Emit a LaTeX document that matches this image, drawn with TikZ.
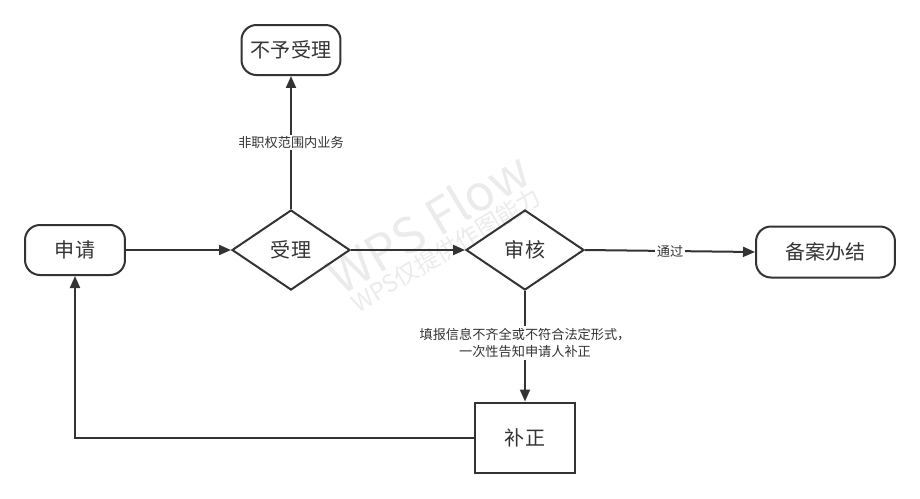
\documentclass[tikz,border=0pt]{standalone}
\usepackage{fontspec}
\setmainfont{Noto Sans CJK SC}
\usetikzlibrary{arrows.meta,shapes.geometric}
\definecolor{ln}{HTML}{333333}
\definecolor{wm}{HTML}{EBEBEB}
\begin{document}
\begin{tikzpicture}[x=0.02cm,y=-0.02cm,
  base/.style={draw=ln,line width=0.04cm,text=ln,font=\fontsize{11.4}{13}\selectfont,inner sep=0pt,align=center},
  term/.style={base,rounded corners=0.3cm,minimum height=1cm},
  proc/.style={base,minimum width=2cm,minimum height=1.4cm},
  dec/.style={base,diamond,minimum width=2.36cm,minimum height=1.6cm},
  arr/.style={draw=ln,line width=0.04cm,-{Triangle[length=0.24cm,width=0.2cm]}},
  lbl/.style={fill=white,text=ln,font=\fontsize{7.5}{10.2}\selectfont,inner sep=1pt,align=center},
  wmk/.style={text=wm,rotate=31}
]
\useasboundingbox (0,0) rectangle (920,498);
% watermark
\node[wmk,font=\fontsize{28}{30}\selectfont] (wm1) at (428,222) {WPS Flow};
\node[wmk,font=\fontsize{13.5}{15}\selectfont] (wm2) at (446,250) {WPS仅提供作图能力};
% nodes
\node[term,minimum width=2cm] (sq) at (75,250) {申请};
\node[dec] (sl) at (291,250) {受理};
\node[term,minimum width=1.98cm] (byl) at (291,50) {不予受理};
\node[dec] (sh) at (525,250) {审核};
\node[term,minimum width=2.78cm,minimum height=1.02cm] (ba) at (825.5,252) {备案办结};
\node[proc] (bz) at (525,437.5) {补正};
% edges
\draw[arr] (sq) -- (sl);
\draw[arr] (sl) -- node[lbl] {非职权范围内业务} (byl);
\draw[arr] (sl) -- (sh);
\draw[arr] (sh.east) -- node[lbl,pos=0.5] {通过} (ba.west);
\draw[arr] (sh) -- node[lbl,pos=0.47] {填报信息不齐全或不符合法定形式，\\一次性告知申请人补正} (bz);
\draw[arr] (bz.west) -| (sq.south);
\end{tikzpicture}
\end{document}
